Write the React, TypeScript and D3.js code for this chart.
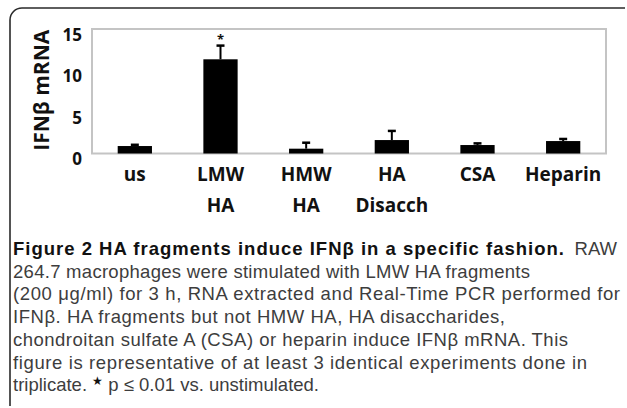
import React from "react";
import * as d3 from "d3";

const categories: string[][] = [["us"], ["LMW", "HA"], ["HMW", "HA"], ["HA", "Disacch"], ["CSA"], ["Heparin"]];
const values: number[] = [0.9, 11.35, 0.58, 1.62, 1.02, 1.5];
const errors: number[] = [0.15, 1.65, 0.72, 1.1, 0.2, 0.25];
const yTicks: number[] = [0, 5, 10, 15];
const significant: boolean[] = [false, true, false, false, false, false];
const yTitle = "IFNβ mRNA";
const captionBold = "Figure 2 HA fragments induce IFNβ in a specific fashion.";
const captionFirstTail = "RAW";
const captionLines: string[] = [
  "264.7 macrophages were stimulated with LMW HA fragments",
  "(200 μg/ml) for 3 h, RNA extracted and Real-Time PCR performed for",
  "IFNβ. HA fragments but not HMW HA, HA disaccharides,",
  "chondroitan sulfate A (CSA) or heparin induce IFNβ mRNA. This",
  "figure is representative of at least 3 identical experiments done in",
];
const captionLineEnds: number[] = [530, 620, 505, 568, 587];
const lastLineStart = "triplicate. ";
const lastLineEnd = " p ≤ 0.01 vs. unstimulated.";

export default function App() {
  const W = 627, H = 408;
  const left = 92, right = 606, top = 29, bottom = 153.5;
  const x = d3.scaleBand<number>().domain(d3.range(categories.length)).range([left, right]).paddingInner(0.6).paddingOuter(0.3);
  const y = d3.scaleLinear().domain([0, 15]).range([bottom, top]);
  const bw = x.bandwidth();
  const axFont = "'Open Sans', 'Noto Sans', sans-serif";
  const capFont = "'Liberation Sans', Arial, sans-serif";
  const capColor = "#3d3d3d";
  const capSize = 18.5;
  const lineH = 22.7;
  const base0 = 255;
  const x0Cap = 13;
  return (
    <svg width={W} height={H} style={{ position: "absolute", left: 0, top: 0 }} xmlns="http://www.w3.org/2000/svg">
      <rect x={0} y={0} width={W} height={H} fill="#fff" />
      <path d="M 10 406 L 10 20 A 12 12 0 0 1 22 8 L 625 8" fill="none" stroke="#2a2a2a" strokeWidth={1.6} />
      <rect x={left} y={top} width={right - left} height={bottom - top} fill="none" stroke="#c4c4c4" strokeWidth={2} />
      {yTicks.map((t) => (
        <text key={t} x={82} y={y(t) + 11.5} textAnchor="end" fontFamily={axFont} fontWeight={700} fontSize={17} fill="#111">
          {t}
        </text>
      ))}
      <text transform={`translate(49,${(top + bottom) / 2 - 1}) rotate(-90)`} textAnchor="middle" fontFamily={axFont} fontWeight={700} fontSize={21} fill="#111">
        {yTitle}
      </text>
      {values.map((v, i) => {
        const xb = x(i)!;
        const cx = xb + bw / 2;
        const yt = y(v);
        const ye = y(v + errors[i]);
        return (
          <g key={i}>
            <rect x={xb} y={yt} width={bw} height={bottom - yt} fill="#000" />
            <line x1={cx} x2={cx} y1={yt} y2={ye} stroke="#000" strokeWidth={2} />
            <line x1={cx - 4} x2={cx + 4} y1={ye} y2={ye} stroke="#000" strokeWidth={2.5} />
            {significant[i] && (
              <text x={cx} y={ye - 2} textAnchor="middle" fontFamily={axFont} fontWeight={700} fontSize={13} fill="#111">
                *
              </text>
            )}
          </g>
        );
      })}
      {categories.map((lines, i) => (
        <text key={i} textAnchor="middle" fontFamily={axFont} fontWeight={700} fontSize={19} fill="#111">
          {lines.map((l, j) => (
            <tspan key={j} x={x(i)! + bw / 2} y={181 + j * 30.5}>
              {l}
            </tspan>
          ))}
        </text>
      ))}
      <text x={x0Cap} y={base0} fontFamily={capFont} fontSize={capSize} fontWeight={700} fill="#111" textLength={564 - x0Cap} lengthAdjust="spacing">
        {captionBold}
      </text>
      <text x={617} y={base0} textAnchor="end" fontFamily={capFont} fontSize={capSize} fill={capColor}>
        {captionFirstTail}
      </text>
      {captionLines.map((l, i) => (
        <text key={i} x={x0Cap} y={base0 + (i + 1) * lineH} fontFamily={capFont} fontSize={capSize} fill={capColor} textLength={captionLineEnds[i] - x0Cap} lengthAdjust="spacing">
          {l}
        </text>
      ))}
      <text x={x0Cap} y={base0 + 6 * lineH} fontFamily={capFont} fontSize={capSize} fill={capColor}>
        <tspan>{lastLineStart}</tspan>
        <tspan fill="#111" fontSize={12} dy={-6}>★</tspan>
        <tspan dy={6}>{lastLineEnd}</tspan>
      </text>
    </svg>
  );
}
